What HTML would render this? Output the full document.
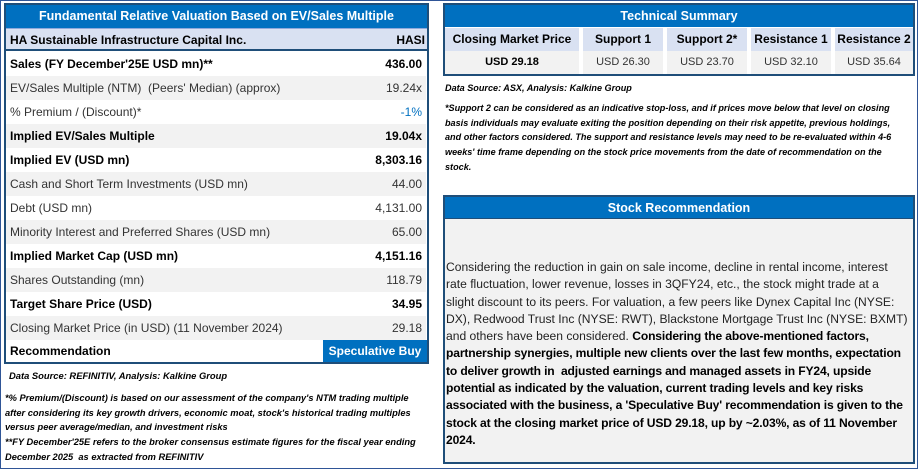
<!DOCTYPE html>
<html><head><meta charset="utf-8"><style>
*{box-sizing:border-box;margin:0;padding:0}
body{width:918px;height:469px;background:#fff;font-family:"Liberation Sans",sans-serif;position:relative;overflow:hidden;color:#000}
.frame{position:absolute;left:0;top:0;width:918px;height:469px;border:1px solid #2F5597}
.abs{position:absolute}
.hdr{background:#0070C0;color:#fff;font-weight:bold;text-align:center;font-size:12.5px}
.row{position:absolute;left:6px;width:420px;height:24px;font-size:12px;line-height:24px;padding:0 4px}
.row .v{position:absolute;right:4px;top:0}
.g{background:#F2F2F2;color:#333}
.b{background:#fff;font-weight:bold}
.note{font-style:italic;font-weight:bold;font-size:9px;line-height:14.7px;white-space:nowrap}
</style></head><body>
<div class="frame"></div>

<div class="abs" style="left:4px;top:3px;width:425px;height:361px;border:2px solid #1F4E79"></div>
<div class="abs hdr" style="left:6px;top:5px;width:421px;height:23px;line-height:23px">Fundamental Relative Valuation Based on EV/Sales Multiple</div>
<div class="abs" style="left:6px;top:28px;width:421px;height:23px;background:#D9E1F2;border-bottom:2px solid #1F4E79;border-top:1px solid #8EA9DB;font-weight:bold;font-size:12px;line-height:22px;padding:0 4px">HA Sustainable Infrastructure Capital Inc.<span style="position:absolute;right:2px">HASI</span></div>

<div class="row b" style="top:52px">Sales (FY December'25E USD mn)**<span class="v">436.00</span></div>
<div class="row g" style="top:76px">EV/Sales Multiple (NTM)&nbsp; (Peers' Median) (approx)<span class="v">19.24x</span></div>
<div class="row" style="top:100px;color:#333">% Premium / (Discount)*<span class="v" style="color:#0070C0">-1%</span></div>
<div class="row g" style="top:124px;color:#000;font-weight:bold">Implied EV/Sales Multiple<span class="v">19.04x</span></div>
<div class="row b" style="top:148px">Implied EV (USD mn)<span class="v">8,303.16</span></div>
<div class="row g" style="top:172px">Cash and Short Term Investments (USD mn)<span class="v">44.00</span></div>
<div class="row" style="top:196px;color:#333">Debt (USD mn)<span class="v">4,131.00</span></div>
<div class="row g" style="top:220px">Minority Interest and Preferred Shares (USD mn)<span class="v">65.00</span></div>
<div class="row b" style="top:244px">Implied Market Cap (USD mn)<span class="v">4,151.16</span></div>
<div class="row g" style="top:268px">Shares Outstanding (mn)<span class="v">118.79</span></div>
<div class="row b" style="top:292px">Target Share Price (USD)<span class="v">34.95</span></div>
<div class="row g" style="top:316px">Closing Market Price (in USD) (11 November 2024)<span class="v">29.18</span></div>
<div class="row b" style="top:340px;height:22px;line-height:22px">Recommendation</div>
<div class="abs hdr" style="left:323px;top:340px;width:104px;height:22px;line-height:22px;font-size:12px">Speculative Buy</div>

<div class="abs note" style="left:9px;top:369px;font-size:9.4px">Data Source: REFINITIV, Analysis: Kalkine Group</div>
<div class="abs note" style="left:5px;top:391px;font-size:9.3px">*% Premium/(Discount) is based on our assessment of the company's NTM trading multiple<br>after considering its key growth drivers, economic moat, stock's historical trading multiples<br>versus peer average/median, and investment risks<br>**FY December'25E refers to the broker consensus estimate figures for the fiscal year ending<br>December 2025&nbsp; as extracted from REFINITIV</div>

<div class="abs" style="left:443px;top:3px;width:472px;height:73px;border:2px solid #1F4E79;background:#fff"></div>
<div class="abs hdr" style="left:445px;top:5px;width:468px;height:22px;line-height:22px">Technical Summary</div>
<div class="abs" style="left:445px;top:28px;width:468px;height:46px;font-size:12px">
<div class="abs" style="left:0;top:0;width:134px;height:23px;background:#D9E1F2;font-weight:bold;text-align:center;line-height:23px">Closing Market Price</div>
<div class="abs" style="left:0;top:23px;width:134px;height:23px;background:#F2F2F2;font-weight:bold;text-align:center;line-height:23px;font-size:11px">USD 29.18</div>
<div class="abs" style="left:138px;top:0;width:80px;height:23px;background:#D9E1F2;font-weight:bold;text-align:center;line-height:23px">Support 1</div>
<div class="abs" style="left:138px;top:23px;width:80px;height:23px;background:#F2F2F2;color:#333;text-align:center;line-height:23px;font-size:11px">USD 26.30</div>
<div class="abs" style="left:222px;top:0;width:80px;height:23px;background:#D9E1F2;font-weight:bold;text-align:center;line-height:23px">Support 2*</div>
<div class="abs" style="left:222px;top:23px;width:80px;height:23px;background:#F2F2F2;color:#333;text-align:center;line-height:23px;font-size:11px">USD 23.70</div>
<div class="abs" style="left:306px;top:0;width:80px;height:23px;background:#D9E1F2;font-weight:bold;text-align:center;line-height:23px">Resistance 1</div>
<div class="abs" style="left:306px;top:23px;width:80px;height:23px;background:#F2F2F2;color:#333;text-align:center;line-height:23px;font-size:11px">USD 32.10</div>
<div class="abs" style="left:390px;top:0;width:78px;height:23px;background:#D9E1F2;font-weight:bold;text-align:center;line-height:23px">Resistance 2</div>
<div class="abs" style="left:390px;top:23px;width:78px;height:23px;background:#F2F2F2;color:#333;text-align:center;line-height:23px;font-size:11px">USD 35.64</div>
</div>

<div class="abs note" style="left:445px;top:81px;font-size:9.1px">Data Source: ASX, Analysis: Kalkine Group</div>
<div class="abs note" style="left:445px;top:101px;font-size:9.1px">*Support 2 can be considered as an indicative stop-loss, and if prices move below that level on closing<br>basis individuals may evaluate exiting the position depending on their risk appetite, previous holdings,<br>and other factors considered. The support and resistance levels may need to be re-evaluated within 4-6<br>weeks' time frame depending on the stock price movements from the date of recommendation on the<br>stock.</div>

<div class="abs" style="left:443px;top:195px;width:472px;height:269px;border:2px solid #1F4E79;background:#F2F2F2"></div>
<div class="abs hdr" style="left:445px;top:197px;width:468px;height:22px;line-height:22px;border-bottom:1px solid #1F4E79">Stock Recommendation</div>
<div class="abs" style="left:446px;top:259px;width:467px;overflow:hidden;font-size:12.1px;line-height:17.3px;color:#222;white-space:nowrap">Considering the reduction in gain on sale income, decline in rental income, interest<br>rate fluctuation, lower revenue, losses in 3QFY24, etc., the stock might trade at a<br>slight discount to its peers. For valuation, a few peers like Dynex Capital Inc (NYSE:<br>DX), Redwood Trust Inc (NYSE: RWT), Blackstone Mortgage Trust Inc (NYSE: BXMT)<br>and others have been considered. <b style="color:#000;letter-spacing:-0.15px">Considering the above-mentioned factors,<br>partnership synergies, multiple new clients over the last few months, expectation<br>to deliver growth in&nbsp; adjusted earnings and managed assets in FY24, upside<br>potential as indicated by the valuation, current trading levels and key risks<br>associated with the business, a 'Speculative Buy' recommendation is given to the<br>stock at the closing market price of USD 29.18, up by ~2.03%, as of 11 November<br>2024.</b></div>
</body></html>
